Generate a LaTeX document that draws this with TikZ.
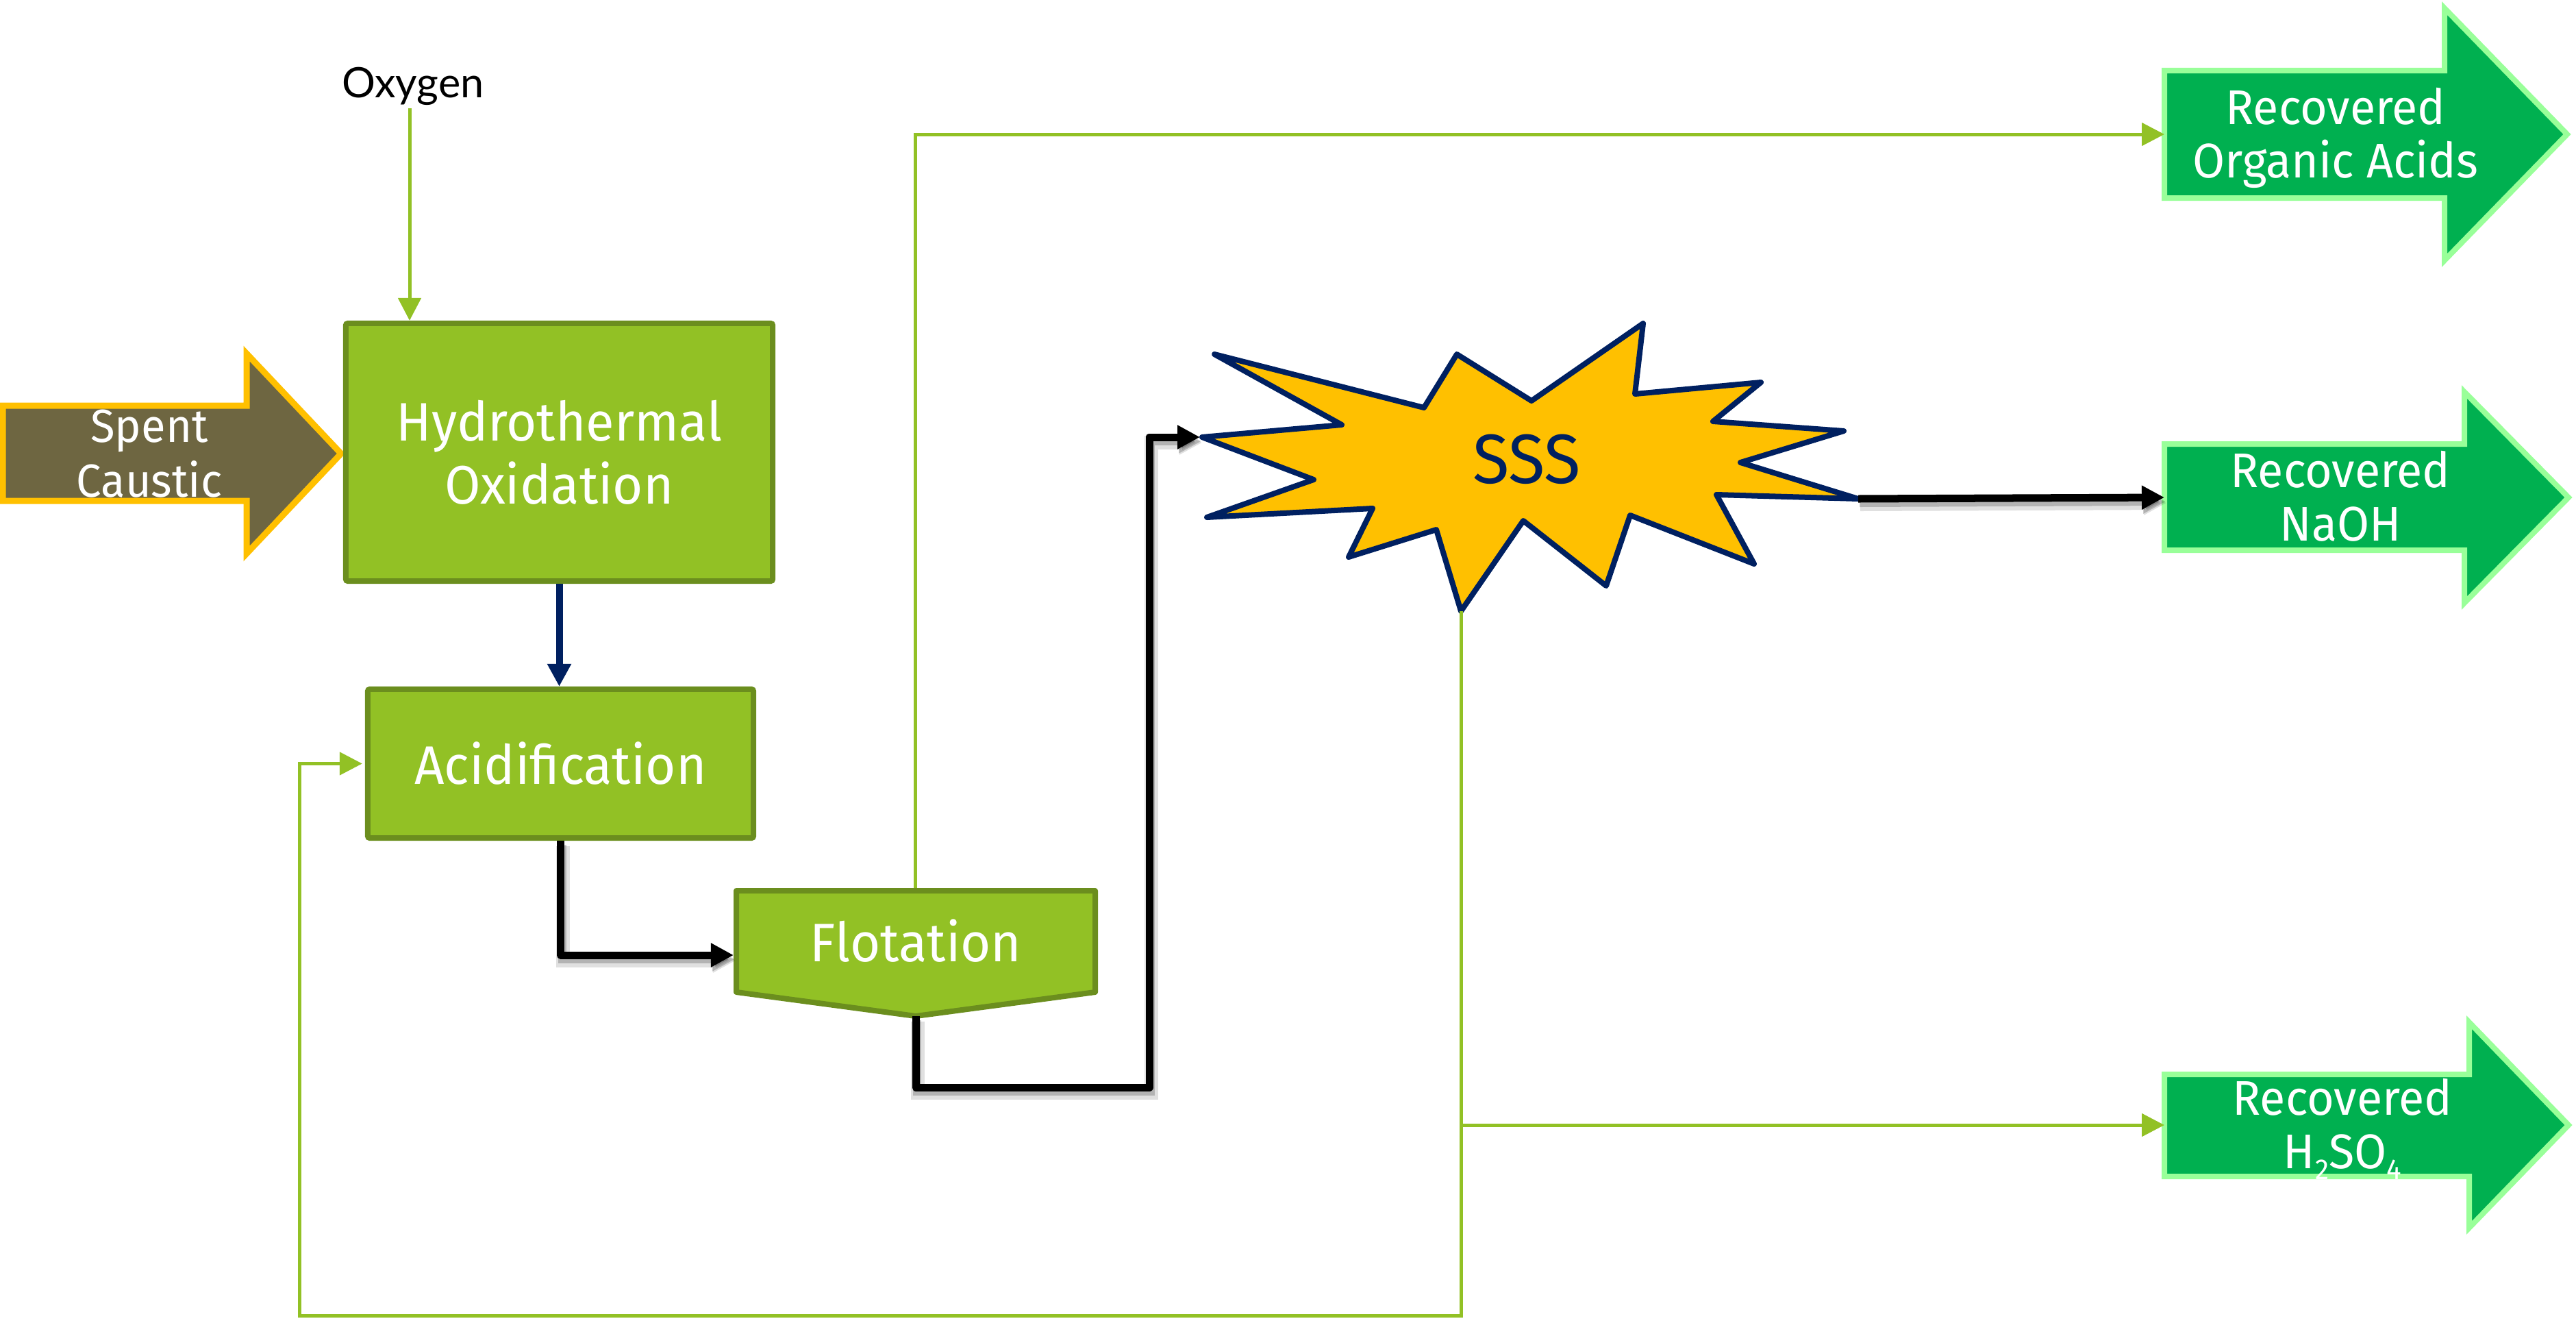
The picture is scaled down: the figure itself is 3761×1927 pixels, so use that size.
\documentclass[tikz,border=0pt]{standalone}
\usepackage{fontspec}
\setmainfont[FakeStretch=0.96]{Fira Sans}
\newfontfamily\oxfont{Lato}
\usetikzlibrary{arrows.meta}
\definecolor{boxfill}{RGB}{146,193,37}
\definecolor{boxline}{RGB}{107,142,30}
\definecolor{spentfill}{RGB}{110,102,65}
\definecolor{gold}{RGB}{255,192,0}
\definecolor{recfill}{RGB}{0,176,80}
\definecolor{recline}{RGB}{153,255,153}
\definecolor{navy}{RGB}{0,32,96}
\newcommand{\lowsub}[1]{\raisebox{-0.22em}{\fontsize{12pt}{12pt}\selectfont #1}}
\begin{document}
\begin{tikzpicture}[x=0.01cm,y=-0.01cm,
  procbox/.style={draw=boxline, fill=boxfill, line width=0.08cm, rounded corners=0.03cm,
    inner sep=0pt, text=white, align=center, font=\fontsize{22.5pt}{26.2pt}\selectfont},
  boxtext/.style={inner sep=0pt, text=white, align=center, font=\fontsize{22.5pt}{26.2pt}\selectfont},
  spenttext/.style={inner sep=0pt, text=white, align=center, font=\fontsize{19.3pt}{22.8pt}\selectfont},
  rectext/.style={inner sep=0pt, text=white, align=center, font=\fontsize{20.2pt}{22.2pt}\selectfont},
  recarrow/.style={draw=recline, fill=recfill, line width=0.08cm, line join=miter},
  tipA/.style={-{Triangle[length=0.33cm,width=0.33cm]}},
  greenflow/.style={draw=boxfill, line width=0.05cm, tipA},
  navyflow/.style={draw=navy, line width=0.1cm, tipA},
  blackflow/.style={draw=black, line width=0.11cm, line join=round, tipA,
    preaction={draw=black, opacity=0.12, line width=0.2cm, transform canvas={shift={(0.03cm,-0.08cm)}}},
    preaction={draw=black, opacity=0.2, line width=0.12cm, transform canvas={shift={(0.02cm,-0.06cm)}}}}
]
\useasboundingbox (0,0) rectangle (3761,1927);

% Spent caustic input arrow
\draw[draw=gold, fill=spentfill, line width=0.09cm, line join=miter]
  (4,592) -- (360,592) -- (360,516) -- (498,662) -- (360,808) -- (360,731) -- (4,731) -- cycle;
\node[spenttext] (spent) at (218,662) {Spent\\Caustic};

% process boxes
\node[procbox, minimum width=6.23cm, minimum height=3.76cm] (hto) at (816.5,660) {Hydrothermal\\Oxidation};
\node[procbox, minimum width=5.63cm, minimum height=2.17cm] (acid) at (818.5,1114.5) {Acidification};

% flotation
\coordinate (flotN) at (1336,1296);
\coordinate (flotW) at (1071,1394);
\coordinate (flotS) at (1337,1483);
\draw[draw=boxline, fill=boxfill, line width=0.08cm, line join=round]
  (1075,1300) -- (1599,1300) -- (1599,1448) -- (flotS) -- (1075,1448) -- cycle;
\node[boxtext, anchor=base] (flot) at (1337,1403) {Flotation};

% SSS star
\coordinate (sssW) at (1755,638);
\coordinate (sssE) at (2713,728);
\coordinate (sssS) at (2133,892);
\draw[fill=gold, draw=navy, line width=0.08cm, line join=round]
  (sssW) -- (1959,620) -- (1773,517) -- (2079,595) -- (2127,517) -- (2236,585)
  -- (2399,472) -- (2387,575) -- (2571,558) -- (2501,615) -- (2692,629)
  -- (2541,675) -- (sssE) -- (2506,722) -- (2561,823) -- (2380,752)
  -- (2345,855) -- (2224,760) -- (sssS) -- (2097,773) -- (1969,813)
  -- (2004,742) -- (1762,755) -- (1918,700) -- cycle;
\node[inner sep=0pt, text=navy, anchor=base, font=\fontsize{29pt}{32pt}\selectfont] (sss) at (2229,705) {SSS};

% recovered output arrows
\coordinate (orgW) at (3160,196);
\coordinate (naohW) at (3160,726);
\coordinate (acidW) at (3160,1642);
\draw[recarrow] (3160,103) -- (3569,103) -- (3569,12) -- (3748,196) -- (3569,380) -- (3569,289) -- (3160,289) -- cycle;
\draw[recarrow] (3160,648) -- (3598,648) -- (3598,572) -- (3750,726) -- (3598,880) -- (3598,803) -- (3160,803) -- cycle;
\draw[recarrow] (3160,1568) -- (3605,1568) -- (3605,1492) -- (3750,1642) -- (3605,1792) -- (3605,1717) -- (3160,1717) -- cycle;
\node[rectext] (org) at (3410,201) {Recovered\\Organic Acids};
\node[rectext] (naoh) at (3417,724.5) {Recovered\\NaOH};
\node[rectext] (h2so4) at (3420,1648) {Recovered\\H\lowsub{2}SO\lowsub{4}};

% oxygen feed
\node[inner sep=0pt, anchor=base, font=\oxfont\fontsize{17.4pt}{20pt}\selectfont] (oxy) at (603,142) {Oxygen};
\coordinate (oxyend) at (598,158);
\draw[greenflow] (oxyend) -- (hto.north -| oxyend);

% main flow
\draw[navyflow] (hto.south) -- (hto.south |- acid.north);
\draw[blackflow] (acid.south) |- (flotW);
\coordinate (bendA) at (1678,1587);
\draw[blackflow] (flotS) |- (bendA) |- ([xshift=-0.03cm]sssW);
\draw[blackflow] (sssE) -- (naohW);

% green side streams
\draw[greenflow] (flotN) |- (orgW);
\coordinate (loopBL) at (437,1920);
\draw[greenflow] (sssS) |- (loopBL) |- ([xshift=-0.04cm]acid.west);
\draw[greenflow] (sssS |- acidW) -- (acidW);
\end{tikzpicture}
\end{document}
